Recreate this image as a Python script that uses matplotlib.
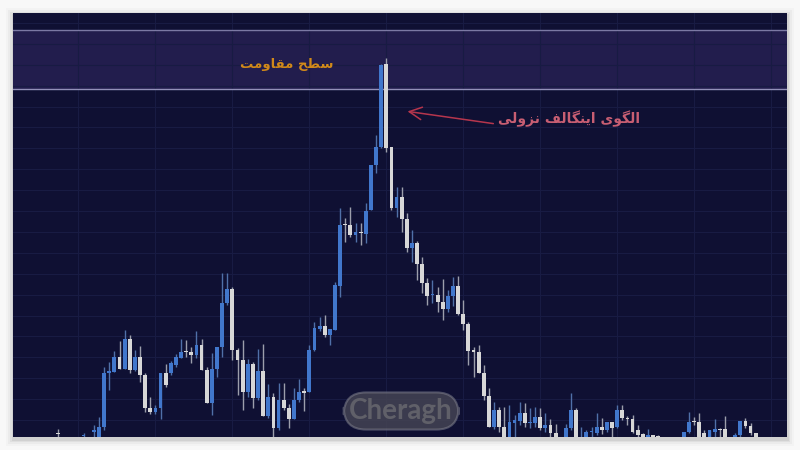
import numpy as np
import matplotlib
matplotlib.use("Agg")
import matplotlib.pyplot as plt
from matplotlib.patches import Rectangle

nan = np.nan

# candle prices (arbitrary units), oldest first
opens = [4, nan, nan, nan, nan, 1, nan, 5,
         -8, 10, 64, 65, 80, 68, 98, 67, 80, 62,
         29, 25, 29, 64, 64, 72, 79, 86, 85, 82,
         92, 67, 34, 68, 90, 134, 148, 87, 77, 45,
         73, 39, 66, 21, 40, 9, 37, 29, 18, 37,
         46, 45, 87, 108, 111, 102, 107, 151, 213, 212,
         202, 205, 203, 227, 272, 290, 373, 290, 229, 240,
         218, 189, 194, 173, 154, 142, 142, 135, 128, 141,
         151, 123, 113, 87, 85, 64, 41, 10, 27, 10,
         -3, 14, 16, 24, 14, 14, 20, 9, 12, 4,
         nan, -3, 9, 27, -3, 0, 5, 4, 10, 7,
         15, 10, 27, 19, 18, 7, 3, -3, 2, 1,
         nan, nan, nan, nan, -3, 5, 16, 15, 4, -3,
         5, 8, 8, nan, -3, 2, 16, 11, 4]
highs = [8, nan, nan, nan, nan, 4, nan, 12,
         20, 70, 75, 86, 96, 107, 102, 87, 91, 64,
         40, 32, 64, 73, 76, 83, 98, 97, 90, 106,
         98, 70, 84, 90, 164, 164, 150, 89, 97, 78,
         75, 88, 93, 53, 44, 54, 54, 33, 49, 58,
         49, 92, 115, 120, 122, 108, 155, 229, 219, 230,
         214, 214, 234, 272, 302, 373, 379, 290, 250, 250,
         224, 207, 196, 180, 159, 157, 150, 158, 147, 160,
         161, 137, 115, 90, 92, 72, 49, 35, 30, 30,
         32, 22, 35, 34, 29, 30, 29, 24, 18, 13,
         nan, 13, 44, 29, 10, 7, 10, 24, 19, 15,
         15, 32, 32, 21, 22, 12, 4, 8, 2, 2,
         nan, nan, nan, nan, 5, 25, 20, 24, 7, 7,
         18, 9, 21, nan, 4, 16, 19, 14, 4]
lows = [-3, nan, nan, nan, nan, -3, nan, -3,
        -8, 7, 47, 65, 68, 68, 64, 66, 55, 25,
        23, 23, 18, 50, 62, 70, 79, 80, 74, 79,
        67, 34, 22, 60, 80, 132, 77, 42, 27, 40,
        29, 37, 21, 19, -3, 7, 27, 9, 18, 35,
        26, 45, 86, 106, 100, 92, 107, 140, 195, 200,
        195, 192, 194, 227, 264, 289, 285, 227, 220, 205,
        185, 175, 157, 144, 132, 134, 125, 117, 125, 131,
        122, 107, 72, 60, 64, 37, 10, 8, 5, -5,
        -5, 0, 12, 10, 9, 10, 7, 5, 0, -5,
        nan, -5, 7, -5, -5, -3, 0, 2, 3, 5,
        0, 9, 17, 12, 4, 0, -3, -5, -5, -5,
        nan, nan, nan, nan, -5, 4, 12, -5, -5, -5,
        0, 0, -5, nan, -5, 0, 9, 2, -3]
closes = [3, nan, nan, nan, nan, 2, nan, 7,
          10, 64, 66, 80, 68, 98, 67, 80, 62, 29,
          25, 29, 64, 52, 74, 80, 85, 85, 82, 92,
          67, 34, 68, 90, 134, 148, 87, 77, 45, 73,
          39, 66, 21, 40, 9, 37, 29, 18, 37, 45,
          44, 87, 109, 111, 102, 108, 152, 212, 212, 202,
          205, 204, 226, 272, 290, 372, 289, 229, 240, 218,
          189, 194, 173, 154, 141, 143, 135, 128, 141, 151,
          123, 113, 86, 85, 64, 41, 10, 27, 10, -3,
          15, 17, 24, 14, 15, 20, 9, 12, 4, -3,
          nan, 9, 27, -2, 0, 5, 6, 10, 7, 15,
          9, 27, 19, 18, 5, 2, 0, 2, -3, -3,
          nan, nan, nan, nan, 5, 15, 15, -3, -3, 7,
          8, 7, -3, nan, 2, 16, 11, 4, 0]

resistance_low, resistance_high = 348, 407
label_resistance = "سطح مقاومت"
label_pattern = "الگوی اینگالف نزولی"
watermark = "Cheragh"

# --- simple persian shaping (matplotlib has no arabic shaping / bidi) ---
FORMS = {  # isolated, final, initial, medial
    "ا": ("\uFE8D", "\uFE8E", None, None),
    "و": ("\uFEED", "\uFEEE", None, None),
    "ز": ("\uFEAF", "\uFEB0", None, None),
    "ت": ("\uFE95", "\uFE96", "\uFE97", "\uFE98"),
    "ح": ("\uFEA1", "\uFEA2", "\uFEA3", "\uFEA4"),
    "س": ("\uFEB1", "\uFEB2", "\uFEB3", "\uFEB4"),
    "ط": ("\uFEC1", "\uFEC2", "\uFEC3", "\uFEC4"),
    "ف": ("\uFED1", "\uFED2", "\uFED3", "\uFED4"),
    "ق": ("\uFED5", "\uFED6", "\uFED7", "\uFED8"),
    "ل": ("\uFEDD", "\uFEDE", "\uFEDF", "\uFEE0"),
    "م": ("\uFEE1", "\uFEE2", "\uFEE3", "\uFEE4"),
    "ن": ("\uFEE5", "\uFEE6", "\uFEE7", "\uFEE8"),
    "گ": ("\uFB92", "\uFB93", "\uFB94", "\uFB95"),
    "ی": ("\uFBFC", "\uFBFD", "\uFBFE", "\uFBFF"),
}


def shape_fa(text):
    out = []
    for i, ch in enumerate(text):
        if ch not in FORMS:
            out.append(ch)
            continue
        prev = text[i - 1] if i > 0 else ""
        nxt = text[i + 1] if i + 1 < len(text) else ""
        dual = FORMS[ch][2] is not None
        join_prev = prev in FORMS and FORMS[prev][2] is not None
        join_next = dual and nxt in FORMS
        if join_prev and join_next:
            out.append(FORMS[ch][3])
        elif join_prev:
            out.append(FORMS[ch][1])
        elif join_next:
            out.append(FORMS[ch][2])
        else:
            out.append(FORMS[ch][0])
    return "".join(out)[::-1]


o = np.array(opens, dtype=float)
h = np.array(highs, dtype=float)
l = np.array(lows, dtype=float)
c = np.array(closes, dtype=float)
x = np.arange(len(o))
ok = ~np.isnan(o)
up = ok & (c >= o)
down = ok & (c < o)

BG = "#13163f"
BLUE = "#4f8ef2"
WHITE = "#ffffff"

fig = plt.figure(figsize=(8, 4.5), dpi=100, facecolor="#f8f8f8")
# soft shadow around the screenshot
for pad, a in [(7, 0.02), (5, 0.03), (3, 0.05), (1.5, 0.06)]:
    fig.patches.append(Rectangle(((13 - pad) / 800, (13 - pad - 2) / 450), (774 + 2 * pad) / 800,
                                 (424 + 2 * pad) / 450, transform=fig.transFigure,
                                 color="black", alpha=a, zorder=0, lw=0))

ax = fig.add_axes([13 / 800, 13 / 450, 774 / 800, 424 / 450])
ax.set_facecolor(BG)
ax.set_xlim(-8.76, 142.1)
ax.set_ylim(0, 424)

ax.set_xticks(np.arange(3.9, 142, 15.0))
ax.set_yticks(np.arange(17, 424, 20.9))
ax.grid(True, color="#1e2251", lw=0.8)
ax.set_axisbelow(True)
ax.tick_params(length=0, labelbottom=False, labelleft=False)
for s in ax.spines.values():
    s.set_visible(False)

# resistance band
ax.axhspan(resistance_low, resistance_high, color="#2a245c", zorder=0.3, lw=0)
ax.axhline(resistance_low, color="#b0acdc", lw=1.0, zorder=1)
ax.axhline(resistance_high, color="#9390c4", lw=1.0, zorder=1)

# candles
ax.vlines(x[up], l[up], h[up], color="#5f86c8", lw=1.0, zorder=2)
ax.vlines(x[down], l[down], h[down], color="#b9bccb", lw=1.0, zorder=2)
ax.bar(x[up], np.maximum(c[up] - o[up], 1.5), bottom=o[up], width=0.74, color=BLUE, zorder=3)
ax.bar(x[down], np.maximum(o[down] - c[down], 1.5), bottom=c[down], width=0.74, color=WHITE, zorder=3)

# labels
ax.text(44.6, 373, shape_fa(label_resistance), color="#f7a320", fontsize=9.5, fontweight="bold",
        ha="center", va="center", family="DejaVu Sans", zorder=5)
ax.text(99.6, 318, shape_fa(label_pattern), color="#ee7189", fontsize=10, fontweight="bold",
        ha="center", va="center", family="DejaVu Sans", zorder=5)
ax.annotate("", xy=(67.6, 326), xytext=(85.4, 313),
            arrowprops=dict(arrowstyle="->,head_length=0.9,head_width=0.45", color="#d9415c", lw=1.1),
            zorder=5)

# watermark
ax.text(66.9, 26, watermark, color="#74747e", fontsize=20, fontweight="bold", family="Lato",
        ha="center", va="center", zorder=6,
        bbox=dict(boxstyle="round,pad=0.2,rounding_size=0.8", fc=(0.32, 0.32, 0.39, 0.85),
                  ec=(0.6, 0.6, 0.66, 0.55), lw=1.5))

fig.savefig("out.png", dpi=100, facecolor=fig.get_facecolor())
